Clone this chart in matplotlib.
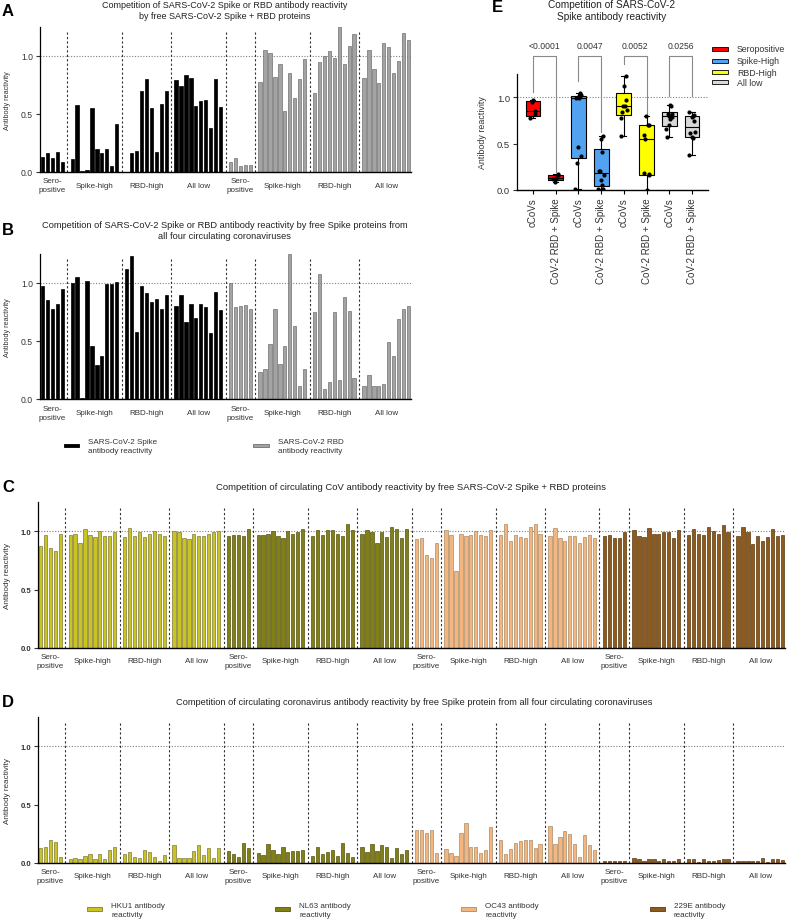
import numpy as np
import matplotlib
matplotlib.use("Agg")
import matplotlib.pyplot as plt
from matplotlib.patches import Rectangle
from matplotlib.transforms import blended_transform_factory

plt.rcParams['font.family'] = ['Liberation Sans', 'DejaVu Sans']

GROUPS = ["Sero-\npositive", "Spike-high", "RBD-high", "All low"]

# A: SARS-CoV-2 Spike / RBD reactivity, competed with free SARS-CoV-2 Spike + RBD
A_SPIKE = [[0.13, 0.16, 0.12, 0.17, 0.09],
           [0.11, 0.58, 0.01, 0.015, 0.55, 0.20, 0.16, 0.20, 0.05, 0.41],
           [0.0, 0.16, 0.18, 0.70, 0.80, 0.55, 0.17, 0.59, 0.70],
           [0.79, 0.74, 0.84, 0.81, 0.57, 0.61, 0.62, 0.38, 0.80, 0.56]]
A_RBD = [[0.09, 0.12, 0.05, 0.06, 0.06],
         [0.78, 1.05, 1.03, 0.82, 0.93, 0.53, 0.85, 0.64, 0.80, 0.97],
         [0.68, 0.95, 1.00, 1.04, 0.98, 1.25, 0.93, 1.09, 1.19],
         [0.81, 1.05, 0.89, 0.77, 1.11, 1.08, 0.85, 0.96, 1.20, 1.14]]

# B: same readouts, competed with Spike of the four circulating CoVs
B_SPIKE = [[0.97, 0.85, 0.78, 0.82, 0.95],
           [1.00, 1.05, 0.01, 1.02, 0.46, 0.29, 0.37, 0.99, 0.99, 1.01],
           [1.12, 1.23, 0.58, 0.97, 0.91, 0.84, 0.86, 0.78, 0.90],
           [0.80, 0.90, 0.66, 0.82, 0.70, 0.82, 0.79, 0.57, 0.92, 0.77]]
B_RBD = [[1.00, 0.79, 0.80, 0.81, 0.78],
         [0.23, 0.26, 0.47, 0.78, 0.30, 0.46, 1.25, 0.63, 0.11, 0.26],
         [0.75, 1.08, 0.09, 0.15, 0.75, 0.16, 0.88, 0.76, 0.18],
         [0.11, 0.21, 0.11, 0.115, 0.13, 0.49, 0.37, 0.69, 0.78, 0.80]]

# C: circulating CoV reactivity, competed with SARS-CoV-2 Spike + RBD
C_HKU1 = [[0.87, 0.97, 0.86, 0.83, 0.98],
          [0.97, 0.98, 0.90, 1.02, 0.97, 0.95, 1.00, 0.96, 0.96, 0.99],
          [0.95, 1.03, 0.96, 0.99, 0.95, 0.98, 1.00, 0.98, 0.96],
          [1.00, 0.99, 0.94, 0.93, 0.98, 0.96, 0.96, 0.98, 0.99, 1.00]]
C_NL63 = [[0.96, 0.97, 0.97, 0.96, 1.02],
          [0.97, 0.97, 0.98, 1.00, 0.96, 0.94, 1.00, 0.98, 0.99, 1.02],
          [0.96, 1.01, 0.97, 1.01, 1.01, 0.98, 0.96, 1.06, 1.01],
          [0.98, 1.01, 0.99, 0.90, 0.99, 0.95, 1.04, 1.02, 0.94, 1.02]]
C_OC43 = [[0.93, 0.94, 0.80, 0.77, 0.90],
          [1.01, 0.97, 0.66, 0.98, 0.96, 0.97, 1.00, 0.97, 0.96, 1.01],
          [0.97, 1.06, 0.92, 0.97, 0.95, 0.94, 1.04, 1.06, 0.98],
          [0.96, 1.03, 0.94, 0.92, 0.96, 0.96, 0.90, 0.95, 0.97, 0.94]]
C_229E = [[0.96, 0.97, 0.94, 0.94, 0.99],
          [1.01, 0.96, 0.95, 1.03, 0.98, 0.98, 0.99, 0.99, 0.94, 1.01],
          [0.97, 1.02, 0.98, 0.97, 1.04, 1.00, 0.98, 1.05, 0.99],
          [0.96, 1.04, 0.99, 0.89, 0.96, 0.92, 0.95, 1.02, 0.96, 0.97]]

# D: circulating CoV reactivity, competed with Spike of all four circulating CoVs
D_HKU1 = [[0.13, 0.14, 0.20, 0.18, 0.05],
          [0.03, 0.04, 0.035, 0.06, 0.08, 0.03, 0.075, 0.03, 0.11, 0.135],
          [0.08, 0.09, 0.055, 0.045, 0.115, 0.09, 0.055, 0.015, 0.07],
          [0.15, 0.045, 0.04, 0.045, 0.105, 0.15, 0.07, 0.13, 0.04, 0.13]]
D_NL63 = [[0.10, 0.08, 0.055, 0.175, 0.13],
          [0.085, 0.07, 0.16, 0.11, 0.08, 0.135, 0.095, 0.10, 0.105, 0.11],
          [0.06, 0.14, 0.075, 0.09, 0.115, 0.06, 0.175, 0.085, 0.055],
          [0.14, 0.09, 0.16, 0.105, 0.15, 0.135, 0.04, 0.125, 0.08, 0.11]]
D_OC43 = [[0.28, 0.28, 0.26, 0.28, 0.085],
          [0.12, 0.085, 0.06, 0.26, 0.34, 0.135, 0.14, 0.085, 0.11, 0.31],
          [0.20, 0.08, 0.12, 0.17, 0.19, 0.20, 0.195, 0.13, 0.165],
          [0.32, 0.16, 0.22, 0.27, 0.25, 0.16, 0.05, 0.24, 0.15, 0.11]]
D_229E = [[0.02, 0.02, 0.02, 0.02, 0.02],
          [0.045, 0.03, 0.02, 0.03, 0.03, 0.02, 0.03, 0.015, 0.015, 0.03],
          [0.035, 0.035, 0.01, 0.035, 0.02, 0.02, 0.025, 0.03, 0.03],
          [0.02, 0.02, 0.02, 0.015, 0.015, 0.04, 0.005, 0.03, 0.03, 0.025]]

# E: box plots of B spike (cCoVs) vs A spike (CoV-2 RBD + Spike)
E_GROUPS = ["Seropositive", "Spike-High", "RBD-High", "All low"]
E_XLABELS = ["cCoVs", "CoV-2 RBD + Spike"]
E_PVALUES = ["<0.0001", "0.0047", "0.0052", "0.0256"]
E_COLORS = ["#FF0000", "#52A2F2", "#FFFF00", "#D9D9D9"]
E_BRACKET_LOW = [1.06, 0.19, 1.17, 0.62, 1.36, 0.82, 1.01, 1.01]

W, H = 794, 920
fig = plt.figure(figsize=(W / 100, H / 100), dpi=100)


def fy(ypx):
    return 1 - ypx / H


def px_axes(left, top, right, bottom):
    return fig.add_axes([left / W, fy(bottom), (right - left) / W, (bottom - top) / H])


def style_axis(ax, bold=False, tick_size=6.2, label_size=5.2, labelpad=6):
    for s in ['top', 'right']:
        ax.spines[s].set_visible(False)
    ax.spines['left'].set_linewidth(0.9)
    ax.spines['bottom'].set_linewidth(1.0)
    ax.set_ylim(0, 1.25)
    ax.set_yticks([0, 0.5, 1.0])
    ax.set_yticklabels(["0.0", "0.5", "1.0"], fontweight='bold' if bold else 'normal')
    ax.tick_params(axis='y', length=3, width=0.8, labelsize=tick_size, pad=2, colors='#333333')
    ax.set_ylabel("Antibody reactivity", fontsize=label_size, color='#333333', labelpad=labelpad)


def bar_panel(ax, blocks, faces, edges, label_y, bold=False, tick_size=6.2, label_size=5.2):
    pos = 0
    seps = []
    centers = []
    for block, fc, ec in zip(blocks, faces, edges):
        for grp in block:
            if pos > 0:
                seps.append(pos)
                pos += 1
            xs = np.arange(pos, pos + len(grp))
            ax.bar(xs, grp, width=0.66, color=fc, edgecolor=ec, linewidth=0.5)
            centers.append(xs.mean())
            pos += len(grp)
    ax.set_xlim(-0.5, pos - 0.5)
    ax.axhline(1.0, color='#808080', lw=0.8, ls=(0, (1, 1.5)), zorder=0)
    ax.vlines(seps, 0, 1.22, colors='#333333', lw=0.8, linestyles=(0, (2, 2)))
    ax.set_xticks([])
    style_axis(ax, bold, tick_size, label_size, labelpad=7)
    tr = blended_transform_factory(ax.transData, fig.transFigure)
    for i, cx in enumerate(centers):
        ax.text(cx, fy(label_y), GROUPS[i % 4], transform=tr, ha='center', va='center',
                fontsize=5.8, color='#333333', linespacing=1.3)


def legend_item(x0, x1, yc, color, edge, h=4):
    fig.add_artist(Rectangle((x0 / W, fy(yc + h / 2)), (x1 - x0) / W, h / H,
                             facecolor=color, edgecolor=edge, linewidth=0.6,
                             transform=fig.transFigure))


def legend_text(x, yc, label):
    fig.text(x / W, fy(yc), label, ha='left', va='center', fontsize=5.8,
             color='#333333', linespacing=1.35)


def panel_title(x, y, text, letter=None, size=6.5, lx=2):
    fig.text(x / W, fy(y), text, ha='center', va='center', fontsize=size,
             color='#222222', linespacing=1.3)
    if letter:
        fig.text(lx / W, fy(y), letter, ha='left', va='center', fontsize=12,
                 fontweight='bold')


GRAY_FC, GRAY_EC = '#A3A3A3', '#707070'
VIRUS_FC = ['#C9C422', '#807F18', '#F4B67E', '#8E5A1E']
VIRUS_EC = ['#7F7B3A', '#55550F', '#A88B6A', '#5A3A12']

# panel A
axA = px_axes(40, 28, 411, 173)
bar_panel(axA, [A_SPIKE, A_RBD], ['black', GRAY_FC], ['black', GRAY_EC], 186)
panel_title(225, 11, "Competition of SARS-CoV-2 Spike or RBD antibody reactivity\n"
            "by free SARS-CoV-2 Spike + RBD proteins", 'A', size=6.5)

# panel B
axB = px_axes(40, 255, 411, 400)
bar_panel(axB, [B_SPIKE, B_RBD], ['black', GRAY_FC], ['black', GRAY_EC], 414)
panel_title(225, 231, "Competition of SARS-CoV-2 Spike or RBD antibody reactivity by free Spike proteins from\n"
            "all four circulating coronaviruses", 'B', size=6.7)
legend_item(64, 79, 446, 'black', 'black', h=3)
legend_text(88, 447, "SARS-CoV-2 Spike\nantibody reactivity")
legend_item(253, 269, 446, GRAY_FC, GRAY_EC, h=3)
legend_text(278, 447, "SARS-CoV-2 RBD\nantibody reactivity")

# panel C
axC = px_axes(38, 503, 785, 649)
bar_panel(axC, [C_HKU1, C_NL63, C_OC43, C_229E], VIRUS_FC, VIRUS_EC, 662,
          bold=True, tick_size=5.6, label_size=5.9)
panel_title(411, 488, "Competition of circulating CoV antibody reactivity by free SARS-CoV-2 Spike + RBD proteins",
            'C', size=6.8)

# panel D
axD = px_axes(38, 718, 785, 864)
bar_panel(axD, [D_HKU1, D_NL63, D_OC43, D_229E], VIRUS_FC, VIRUS_EC, 877,
          bold=True, tick_size=5.6, label_size=5.9)
panel_title(414, 703, "Competition of circulating coronavirus antibody reactivity by free Spike protein "
            "from all four circulating coronaviruses", 'D', size=6.7)
virus_names = ["HKU1", "NL63", "OC43", "229E"]
for name, fc, ec, x0 in zip(virus_names, VIRUS_FC, VIRUS_EC, [87, 275, 461, 650]):
    legend_item(x0, x0 + 15, 910, fc, ec)
    legend_text(x0 + 24, 911, f"{name} antibody\nreactivity")

# panel E
axE = px_axes(517, 75, 708, 191)
stats = []
box_colors = []
points = []
for i in range(4):
    for vals in (B_SPIKE[i], A_SPIKE[i]):
        v = np.array(vals)
        q1, med, q3 = np.percentile(v, [25, 50, 75], method='weibull')
        stats.append(dict(med=med, q1=q1, q3=q3, whislo=v.min(), whishi=v.max(), fliers=[]))
        box_colors.append(E_COLORS[i])
        points.append(v)
bp = axE.bxp(stats, positions=range(8), widths=0.65, patch_artist=True, showfliers=False,
             boxprops=dict(linewidth=0.8, edgecolor='black'),
             medianprops=dict(color='black', linewidth=0.8),
             whiskerprops=dict(linewidth=0.8), capprops=dict(linewidth=0.8), capwidths=0.22)
for patch, c in zip(bp['boxes'], box_colors):
    patch.set_facecolor(c)
for k, v in enumerate(points):
    offs = 0.13 * np.sin(np.arange(len(v)) * 2.4)
    axE.scatter(k + offs, v, s=9, color='black', zorder=5, linewidths=0)
axE.axhline(1.0, color='#808080', lw=0.8, ls=(0, (1, 1.5)), zorder=0)
axE.set_xlim(-0.7, 7.7)
axE.set_xticks(range(8))
axE.set_xticklabels(E_XLABELS * 4, rotation=90, fontsize=7, color='#333333')
axE.tick_params(axis='x', length=3, width=0.8, pad=2)
style_axis(axE, tick_size=6.8, label_size=6.4, labelpad=7)
for j, p in enumerate(E_PVALUES):
    xl, xr = 2 * j, 2 * j + 1
    top = 1.44
    axE.plot([xl, xl, xr, xr], [E_BRACKET_LOW[xl], top, top, E_BRACKET_LOW[xr]],
             color='#8A8A8A', lw=0.8, clip_on=False)
    axE.text((xl + xr) / 2, 1.56, p, ha='center', va='center', fontsize=6.2, color='#333333')
panel_title(612, 11, "Competition of SARS-CoV-2\nSpike antibody reactivity", None, size=7.3)
fig.text(492 / W, fy(8), 'E', ha='left', va='center', fontsize=12, fontweight='bold')
for k, (g, c) in enumerate(zip(E_GROUPS, E_COLORS)):
    yc = [50, 62, 73, 83][k]
    legend_item(712, 728, yc, c, 'black')
    fig.text(737 / W, fy(yc), g, ha='left', va='center', fontsize=6.3, color='#333333')

fig.savefig("out.png", dpi=100)
